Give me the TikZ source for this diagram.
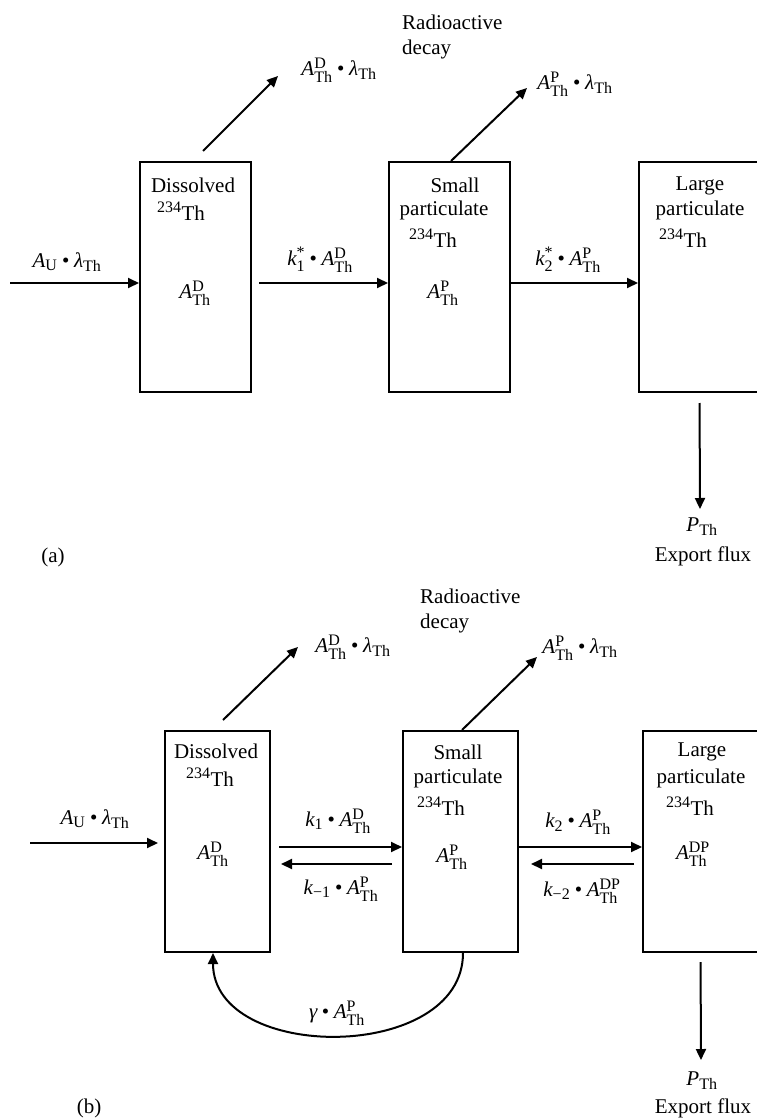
\documentclass[tikz,border=0pt]{standalone}
\usepackage{amsmath}
\usepackage{fontspec}
\setmainfont{Liberation Serif}
\usetikzlibrary{arrows.meta, positioning, calc}

\DeclareMathSizes{21}{21}{16}{12}
\newcommand{\Ath}[1]{\textit{A}^{\text{#1}}_{\text{Th}}}
\newcommand{\lTh}{\textit{λ}_{\text{Th}}}
\newcommand{\bul}{\mathbin{\text{•}}}

\begin{document}
\begin{tikzpicture}[
    x=1pt, y=-1pt,
    every node/.style={font=\fontsize{21}{25}\selectfont, align=center, inner sep=0pt},
    box/.style={rectangle, draw, line width=2pt, inner sep=0pt},
    arrow/.style={-{Triangle[length=11pt,width=10pt]}, line width=2pt}
]
\useasboundingbox (0,0) rectangle (756,1118);

%%%%% (a) %%%%%

% Compartments
\node (disA) [box, minimum width=111pt, minimum height=230pt] at (195.5,277) {};
\node (smA) [box, minimum width=121pt, minimum height=230pt] at (449.5,277) {};
\node (larA) [box, minimum width=121pt, minimum height=230pt] at (699.5,277) {};

% Dissolved
\node (disAname) at (193,185) {Dissolved};
\node (disAiso) at (181,211) {\textsuperscript{234}Th};
\node (disAact) at (195,293) {$\Ath{D}$};

% Small particulate
\node (smAname) at (455,185) {Small};
\node (smApart) at (444,210) {particulate};
\node (smAiso) at (433,238) {\textsuperscript{234}Th};
\node (smAact) at (443,293) {$\Ath{P}$};

% Large particulate
\node (larAname) at (700,186) {Large};
\node (larApart) at (700,210) {particulate};
\node (larAiso) at (683,238) {\textsuperscript{234}Th};

% Fluxes
\node (inAlbl) at (67,262) {$\textit{A}_{\text{U}}\bul\lTh$};
\node (k1Albl) at (320,260) {$\textit{k}^{\text{*}}_{\text{1}}\bul\Ath{D}$};
\node (k2Albl) at (568,260) {$\textit{k}^{\text{*}}_{\text{2}}\bul\Ath{P}$};
\node (decDAlbl) at (339,70) {$\Ath{D}\bul\lTh$};
\node (decPAlbl) at (575,84) {$\Ath{P}\bul\lTh$};
\node (radA) [align=left, anchor=west] at (402,37) {Radioactive\\decay};
\node (pA) at (702,527) {$\textit{P}_{\text{Th}}$};
\node (expA) at (703,556) {Export flux};
\node (tagA) at (53,557) {(a)};

\coordinate (inA) at (10,283);
\coordinate (decDAend) at (278,76);
\coordinate (decPAend) at (527,88);
\coordinate (expAend) at (700,509);

% Arrows
\draw [arrow] (inA) -- (inA -| disA.west);
\draw [arrow, shorten <=7pt] ([yshift=-6pt]disA.east) -- ([yshift=-6pt]smA.west);
\draw [arrow] ([yshift=-6pt]smA.east) -- ([yshift=-6pt]larA.west);
\draw [arrow] ([xshift=7.5pt,yshift=10pt]disA.north) -- (decDAend);
\draw [arrow] ([xshift=1.5pt]smA.north) -- (decPAend);
\draw [arrow, shorten <=10pt] (larA.south) -- (expAend);

%%%%% (b) %%%%%

% Compartments
\node (disB) [box, minimum width=105pt, minimum height=221pt] at (217.5,841.5) {};
\node (smB) [box, minimum width=115pt, minimum height=221pt] at (460.5,841.5) {};
\node (larB) [box, minimum width=115pt, minimum height=221pt] at (700.5,841.5) {};

% Dissolved
\node (disBname) at (216,751) {Dissolved};
\node (disBiso) at (210,777) {\textsuperscript{234}Th};
\node (disBact) at (213,854) {$\Ath{D}$};

% Small particulate
\node (smBname) at (458,752) {Small};
\node (smBpart) at (458,778) {particulate};
\node (smBiso) at (441,806) {\textsuperscript{234}Th};
\node (smBact) at (452,857) {$\Ath{P}$};

% Large particulate
\node (larBname) at (702,752) {Large};
\node (larBpart) at (701,778) {particulate};
\node (larBiso) at (690,806) {\textsuperscript{234}Th};
\node (larBact) at (693,854) {$\Ath{DP}$};

% Fluxes
\node (inBlbl) at (95,819) {$\textit{A}_{\text{U}}\bul\lTh$};
\node (k1Blbl) at (338,821) {$\textit{k}_{\text{1}}\bul\Ath{D}$};
\node (km1Blbl) at (341,889) {$\textit{k}_{\text{−1}}\bul\Ath{P}$};
\node (k2Blbl) at (578,822) {$\textit{k}_{\text{2}}\bul\Ath{P}$};
\node (km2Blbl) at (582,891) {$\textit{k}_{\text{−2}}\bul\Ath{DP}$};
\node (decDBlbl) at (353,647) {$\Ath{D}\bul\lTh$};
\node (decPBlbl) at (580,648) {$\Ath{P}\bul\lTh$};
\node (radB) [align=left, anchor=west] at (420,611) {Radioactive\\decay};
\node (gamBlbl) at (337,1013) {$\textit{γ}\bul\Ath{P}$};
\node (pB) at (702,1081) {$\textit{P}_{\text{Th}}$};
\node (expB) at (703,1108) {Export flux};
\node (tagB) at (89,1108) {(b)};

\coordinate (inB) at (30,843);
\coordinate (decDBend) at (298,647);
\coordinate (decPBend) at (537,657);
\coordinate (expBend) at (701,1060);

% Arrows
\draw [arrow, shorten >=6pt] (inB) -- (inB -| disB.west);
\draw [arrow, shorten <=8pt] ([yshift=-5.5pt]disB.east) -- ([yshift=-5.5pt]smB.west);
\draw [arrow, shorten <=10pt, shorten >=10pt] ([yshift=-22.5pt]smB.west) -- ([yshift=-22.5pt]disB.east);
\draw [arrow] ([yshift=-5.5pt]smB.east) -- ([yshift=-5.5pt]larB.west);
\draw [arrow, shorten <=8pt, shorten >=12pt] ([yshift=-22.5pt]larB.west) -- ([yshift=-22.5pt]smB.east);
\draw [arrow] ([xshift=5.5pt,yshift=10pt]disB.north) -- (decDBend);
\draw [arrow] ([xshift=1.5pt]smB.north) -- (decPBend);
\draw [arrow, shorten <=9pt] (larB.south) -- (expBend);

% Return flux to dissolved pool
\draw [arrow] ([xshift=2.5pt]smB.south) .. controls +(0,110) and +(0,110) .. ([xshift=-4.5pt]disB.south);

\end{tikzpicture}
\end{document}
